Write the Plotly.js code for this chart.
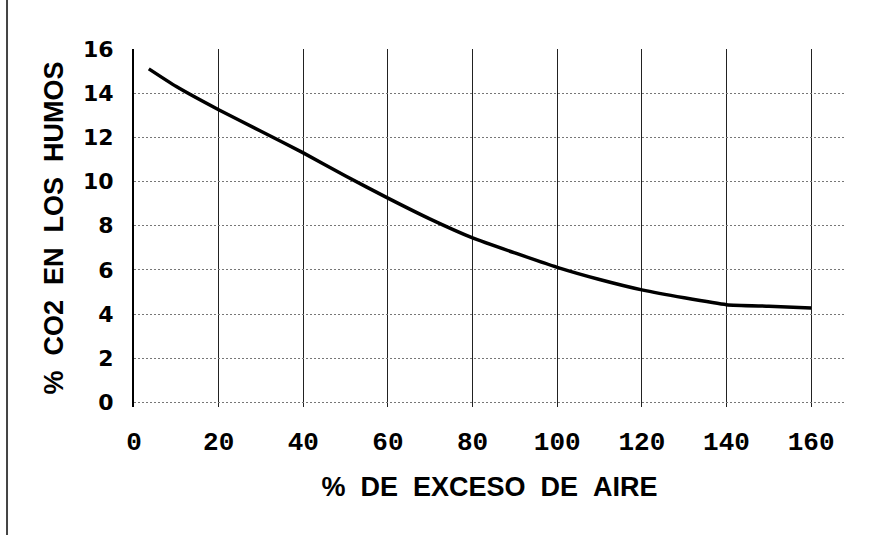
<!DOCTYPE html>
<html>
<head>
<meta charset="utf-8">
<script src="https://cdn.plot.ly/plotly-3.0.1.min.js"></script>
<style>
html,body{margin:0;padding:0;background:#fff;}
#chart{width:893px;height:535px;}
</style>
</head>
<body>
<div id="chart"></div>
<script>
var excesoAire = [3.5, 10, 20, 30, 40, 50, 60, 70, 80, 90, 100, 110, 120, 130, 140, 150, 160];
var co2Humos   = [15.1, 14.3, 13.25, 12.28, 11.3, 10.25, 9.25, 8.3, 7.45, 6.77, 6.12, 5.57, 5.1, 4.74, 4.43, 4.36, 4.28];
var xTicks = [0, 20, 40, 60, 80, 100, 120, 140, 160];
var yTicks = [0, 2, 4, 6, 8, 10, 12, 14, 16];
var xTitle = '%\u00a0\u00a0DE\u00a0\u00a0EXCESO\u00a0\u00a0DE\u00a0\u00a0AIRE';
var yTitle = '%\u00a0\u00a0CO2\u00a0\u00a0EN\u00a0\u00a0LOS\u00a0\u00a0HUMOS';

var trace = {
  x: excesoAire,
  y: co2Humos,
  type: 'scatter',
  mode: 'lines',
  line: {color: '#000', width: 3.5, shape: 'spline', smoothing: 0.5},
  hoverinfo: 'skip'
};

var layout = {
  width: 893,
  height: 535,
  margin: {l: 134, r: 48, t: 49, b: 128},
  paper_bgcolor: '#fff',
  plot_bgcolor: '#fff',
  showlegend: false,
  xaxis: {
    range: [0, 168],
    tickvals: xTicks,
    ticktext: xTicks.map(String),
    showgrid: true,
    gridcolor: '#222',
    gridwidth: 1,
    zeroline: false,
    showline: false,
    ticks: '',
    ticklabelstandoff: 16,
    tickfont: {family: 'Liberation Mono', size: 26, color: '#000', weight: 'bold'},
    title: {text: xTitle, standoff: 20, font: {family: 'Liberation Sans', size: 27, color: '#000', weight: 'bold'}},
    automargin: false,
    fixedrange: true
  },
  yaxis: {
    range: [-0.2, 16],
    tickvals: yTicks,
    ticktext: yTicks.map(String),
    showgrid: true,
    gridcolor: '#777',
    gridwidth: 1,
    griddash: '2px,2px',
    zeroline: false,
    showline: true,
    linecolor: '#000',
    linewidth: 2,
    ticks: '',
    ticklabelstandoff: 14,
    tickfont: {family: 'DejaVu Sans', size: 22, color: '#000', weight: 'bold'},
    title: {text: yTitle, standoff: 12, font: {family: 'Liberation Sans', size: 27, color: '#000', weight: 'bold'}},
    automargin: false,
    fixedrange: true
  },
  shapes: [{
    type: 'line', xref: 'paper', yref: 'paper',
    x0: -0.1786, x1: -0.1786, y0: -0.36, y1: 1.14,
    line: {color: '#444', width: 2}
  }]
};

Plotly.newPlot('chart', [trace], layout, {staticPlot: true, displayModeBar: false});
</script>
</body>
</html>
